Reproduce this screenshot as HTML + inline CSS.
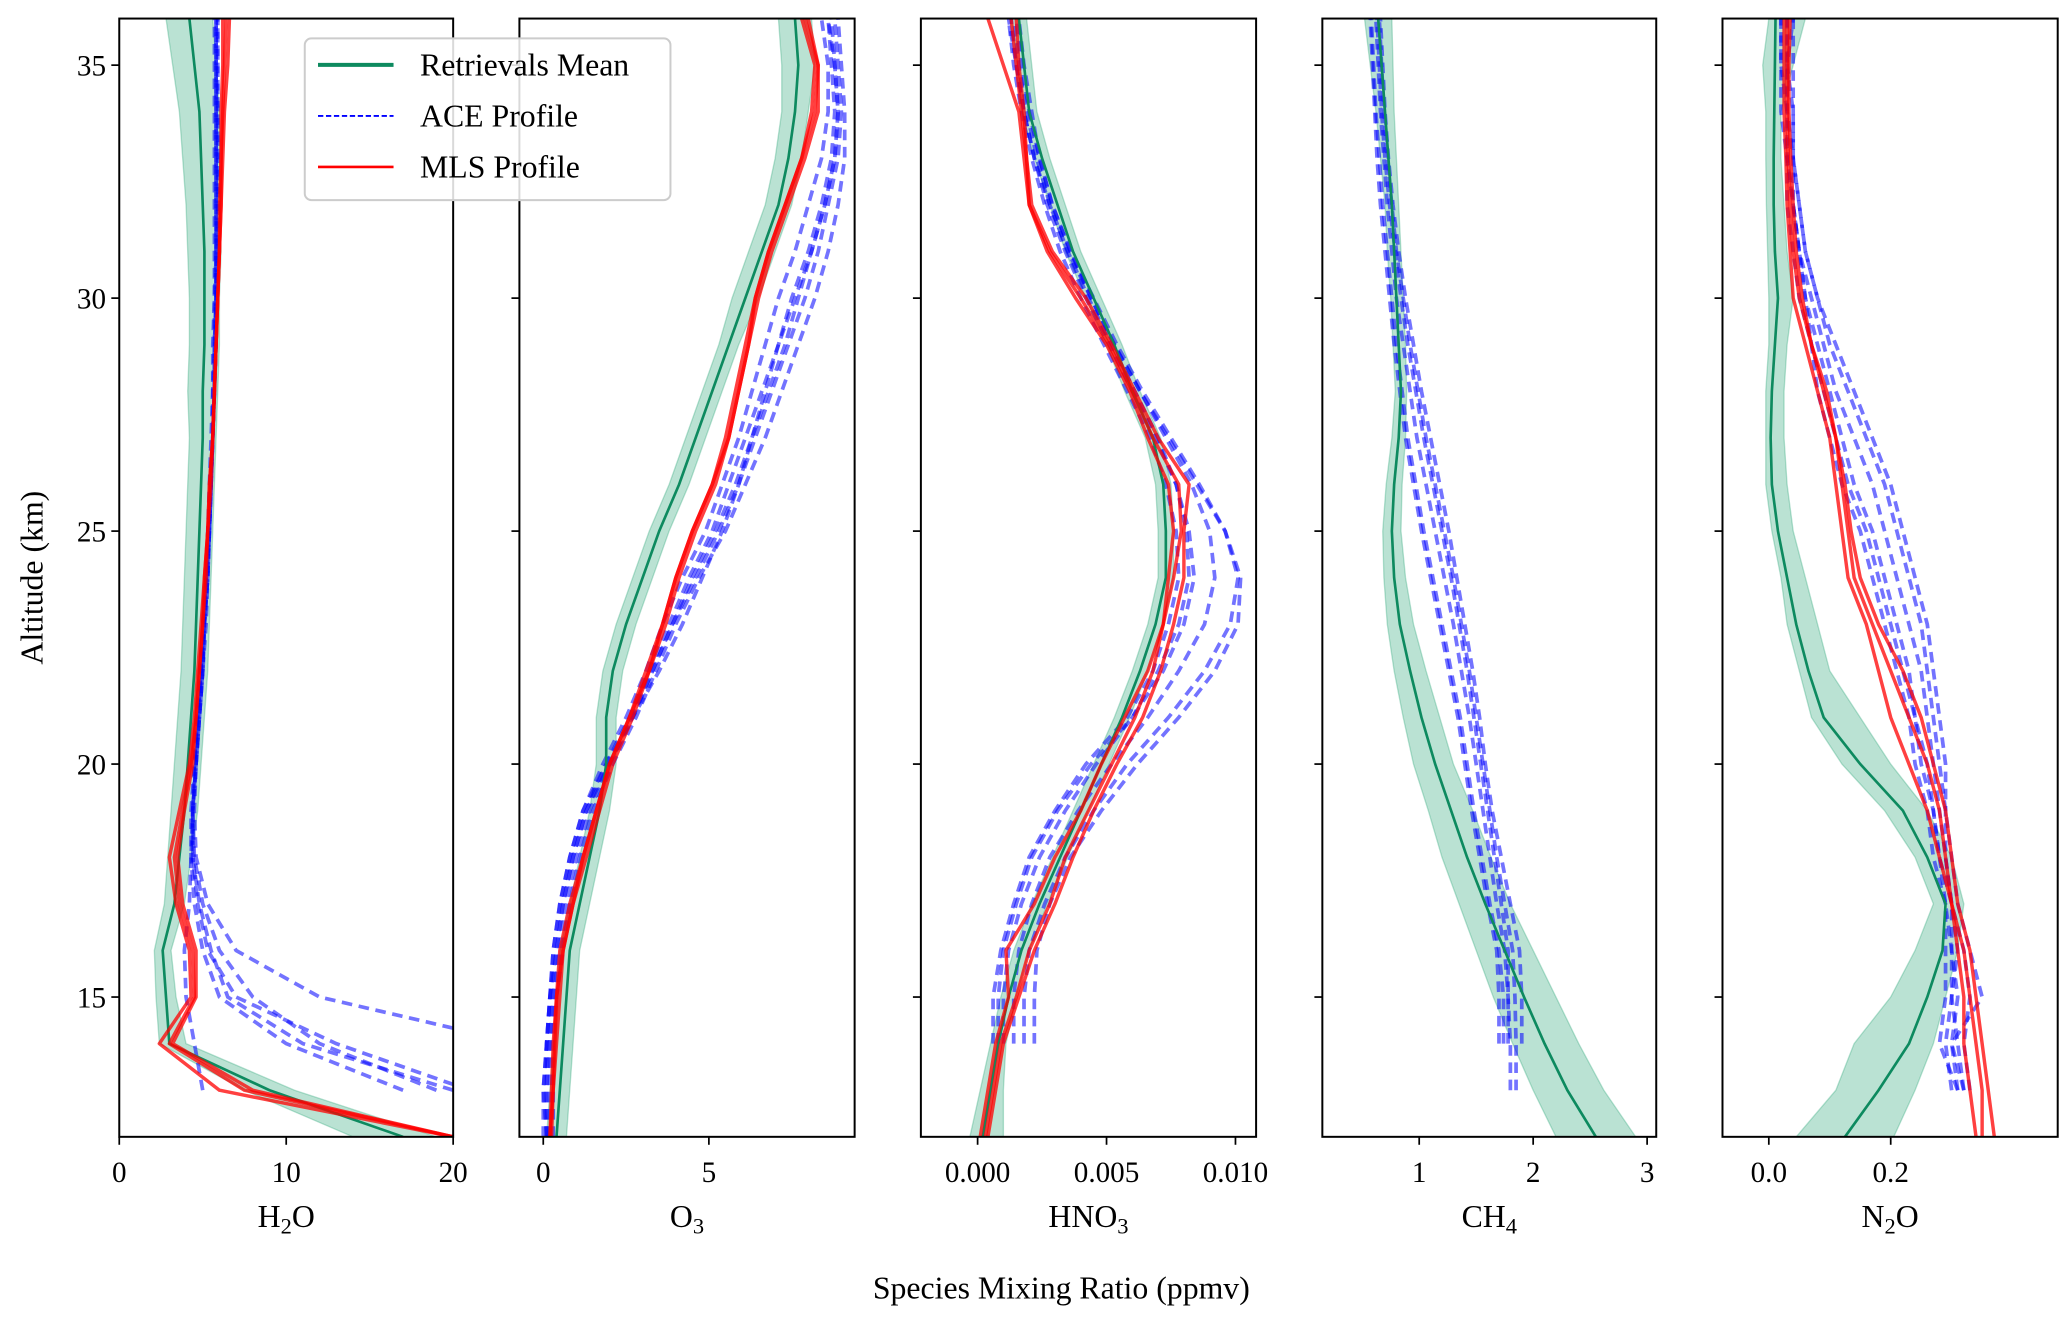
<!DOCTYPE html>
<html><head><meta charset="utf-8"><style>
html,body{margin:0;padding:0;background:#fff;}
svg{display:block;font-family:"Liberation Serif",serif;}
</style></head><body>
<svg id="chart" width="2067" height="1321" viewBox="0 0 1560 997" xmlns="http://www.w3.org/2000/svg"></svg>
<script>
// ---------- data ----------
const altitudes = [12,13,14,15,16,17,18,19,20,21,22,23,24,25,26,27,28,29,30,31,32,33,34,35,36];
const yTicks = [15,20,25,30,35];

// H2O
const h2oMean = [17,9,3.0,2.8,2.6,3.3,3.6,3.9,4.1,4.3,4.5,4.6,4.7,4.8,4.9,5.0,5.0,5.1,5.1,5.1,5.0,4.9,4.8,4.5,4.2];
const h2oLow  = [14,7.5,2.4,2.2,2.1,2.7,2.9,3.1,3.3,3.5,3.7,3.8,3.9,4.0,4.1,4.2,4.1,4.2,4.2,4.1,4.0,3.8,3.6,3.2,2.8];
const h2oHigh = [19,10.5,4.0,3.4,3.1,3.9,4.3,4.7,4.9,5.1,5.3,5.4,5.5,5.6,5.7,5.8,5.9,6.0,6.0,6.1,6.0,6.0,6.0,5.8,5.6];
const h2oAce1 = [null,null,24,12,7,5.3,4.6,4.5,4.6,4.8,5.0,5.1,5.3,5.4,5.5,5.6,5.7,5.8,5.8,5.9,5.9,5.9,5.9,5.9,5.9];
const h2oAce2 = [null,20,11,6.5,5.5,4.8,4.4,4.4,4.6,4.8,5.0,5.1,5.3,5.4,5.5,5.6,5.7,5.8,5.8,5.8,5.9,5.9,5.9,5.9,5.9];
const h2oAce3 = [null,19,12,8,6,5,4.5,4.4,4.6,4.8,5.0,5.2,5.3,5.4,5.5,5.6,5.7,5.7,5.8,5.8,5.8,5.8,5.8,5.8,5.8];
const h2oAce4 = [null,5,4.5,4.0,3.9,4.2,4.3,4.4,4.6,4.8,5.0,5.1,5.3,5.4,5.5,5.6,5.7,5.7,5.8,5.8,5.8,5.8,5.8,5.8,5.8];
const h2oAce5 = [null,21,13,7,5.3,4.7,4.4,4.4,4.5,4.7,4.9,5.1,5.2,5.4,5.5,5.6,5.6,5.7,5.7,5.8,5.8,5.8,5.8,5.8,5.8];
const h2oAce6 = [null,17,10,6,5,4.5,4.3,4.3,4.5,4.7,4.9,5.0,5.2,5.3,5.4,5.5,5.6,5.6,5.7,5.7,5.7,5.7,5.7,5.7,5.7];
const h2oMls1 = [20,6,2.4,4.3,4.2,3.4,3.0,3.6,4.2,4.5,4.7,4.9,5.1,5.3,5.4,5.6,5.7,5.8,5.9,6.0,6.1,6.1,6.1,6.2,6.2];
const h2oMls2 = [20,7.5,3.0,4.5,4.4,3.6,3.3,3.8,4.3,4.6,4.8,5.0,5.2,5.3,5.5,5.6,5.7,5.8,5.9,6.0,6.0,6.1,6.2,6.3,6.4];
const h2oMls3 = [20,8,3.2,4.6,4.6,3.8,3.5,3.9,4.4,4.6,4.8,5.0,5.1,5.3,5.4,5.6,5.7,5.8,5.9,6.0,6.1,6.2,6.3,6.5,6.6];

// O3
const o3Mean = [0.4,0.5,0.6,0.7,0.8,1.1,1.4,1.7,1.9,1.9,2.1,2.5,3.0,3.5,4.1,4.6,5.1,5.6,6.1,6.6,7.1,7.4,7.6,7.7,7.6];
const o3Low  = [0.1,0.2,0.3,0.4,0.5,0.8,1.1,1.4,1.6,1.6,1.8,2.2,2.7,3.2,3.8,4.3,4.8,5.3,5.7,6.2,6.7,7.0,7.2,7.2,7.1];
const o3High = [0.7,0.8,0.9,1.0,1.1,1.4,1.7,2.0,2.2,2.2,2.4,2.8,3.3,3.8,4.4,4.9,5.4,5.9,6.5,7.0,7.5,7.8,8.0,8.2,8.1];
const o3Ace1 = [0.1,0.1,0.1,0.2,0.3,0.5,0.8,1.2,1.8,2.5,3.1,3.6,4.2,4.9,5.4,5.9,6.3,6.7,7.1,7.6,8.0,8.4,8.6,8.6,8.4];
const o3Ace2 = [0.1,0.0,0.1,0.2,0.4,0.6,0.9,1.3,1.9,2.6,3.2,3.8,4.4,5.1,5.6,6.1,6.6,7.1,7.5,8.0,8.4,8.7,8.8,8.7,8.6];
const o3Ace3 = [0.2,0.2,0.2,0.3,0.5,0.7,1.0,1.4,2.0,2.7,3.3,3.9,4.6,5.3,5.9,6.4,6.9,7.4,7.9,8.3,8.6,8.9,9.0,8.9,8.8];
const o3Ace4 = [0.3,0.3,0.3,0.4,0.6,0.8,1.1,1.5,2.1,2.8,3.4,4.0,4.7,5.5,6.1,6.7,7.2,7.7,8.2,8.6,8.9,9.1,9.1,9.0,8.9];
const o3Ace5 = [0.1,0.1,0.2,0.3,0.4,0.6,0.9,1.3,2.0,2.7,3.3,3.9,4.5,5.2,5.8,6.3,6.8,7.3,7.7,8.1,8.5,8.8,8.9,8.8,8.6];
const o3Ace6 = [0.0,0.0,0.1,0.2,0.3,0.5,0.8,1.2,1.9,2.7,3.5,4.2,4.8,5.4,5.9,6.3,6.7,7.1,7.6,8.1,8.5,8.8,8.9,8.8,8.7];
const o3Mls1 = [0.2,0.3,0.35,0.4,0.6,0.9,1.2,1.6,2.0,2.6,3.2,3.6,4.0,4.5,5.1,5.6,5.9,6.2,6.4,6.8,7.3,7.8,8.2,8.3,8.0];
const o3Mls2 = [0.25,0.3,0.4,0.5,0.6,0.9,1.3,1.7,2.1,2.7,3.2,3.7,4.1,4.6,5.2,5.6,5.9,6.2,6.5,6.9,7.4,7.9,8.3,8.3,7.9];
const o3Mls3 = [0.2,0.25,0.3,0.4,0.5,0.8,1.2,1.6,2.0,2.6,3.1,3.6,4.0,4.5,5.1,5.5,5.8,6.1,6.4,6.8,7.3,7.8,8.1,8.2,7.8];

// HNO3
const hno3Mean = [0.0002,0.0005,0.0008,0.0012,0.0017,0.0024,0.0032,0.0040,0.0048,0.0056,0.0063,0.0069,0.0073,0.0073,0.0072,0.0068,0.0060,0.0053,0.0045,0.0037,0.0031,0.0025,0.0020,0.0018,0.0016];
const hno3Low  = [-0.0003,0.0001,0.0005,0.0009,0.0014,0.0021,0.0029,0.0037,0.0045,0.0053,0.0060,0.0066,0.0070,0.0070,0.0069,0.0065,0.0057,0.0050,0.0042,0.0034,0.0028,0.0022,0.0017,0.0015,0.0013];
const hno3High = [0.0010,0.0010,0.0011,0.0015,0.0020,0.0027,0.0035,0.0043,0.0051,0.0059,0.0066,0.0072,0.0076,0.0076,0.0075,0.0071,0.0063,0.0056,0.0048,0.0040,0.0034,0.0028,0.0023,0.0021,0.0019];
const hno3Ace1 = [null,null,0.0006,0.0006,0.0009,0.0014,0.0020,0.0030,0.0042,0.0058,0.0068,0.0074,0.0078,0.0077,0.0073,0.0067,0.0058,0.0049,0.0040,0.0032,0.0026,0.0021,0.0017,0.0014,0.0012];
const hno3Ace2 = [null,null,0.0010,0.0010,0.0012,0.0017,0.0024,0.0034,0.0046,0.0060,0.0072,0.0080,0.0084,0.0082,0.0077,0.0069,0.0060,0.0051,0.0042,0.0034,0.0027,0.0022,0.0018,0.0015,0.0013];
const hno3Ace3 = [null,null,0.0014,0.0014,0.0016,0.0021,0.0028,0.0039,0.0052,0.0066,0.0078,0.0088,0.0092,0.0090,0.0083,0.0073,0.0063,0.0053,0.0044,0.0035,0.0028,0.0023,0.0019,0.0016,0.0014];
const hno3Ace4 = [null,null,0.0018,0.0018,0.0020,0.0026,0.0034,0.0045,0.0058,0.0074,0.0088,0.0098,0.0101,0.0096,0.0086,0.0075,0.0064,0.0054,0.0045,0.0036,0.0029,0.0024,0.0020,0.0017,0.0015];
const hno3Ace5 = [null,null,0.0022,0.0022,0.0023,0.0028,0.0036,0.0048,0.0062,0.0078,0.0092,0.0101,0.0102,0.0096,0.0085,0.0074,0.0063,0.0053,0.0044,0.0036,0.0029,0.0024,0.0021,0.0018,0.0016];
const hno3Ace6 = [null,null,0.0008,0.0008,0.0010,0.0015,0.0021,0.0031,0.0044,0.0060,0.0070,0.0078,0.0082,0.0081,0.0077,0.0070,0.0061,0.0052,0.0043,0.0035,0.0028,0.0022,0.0018,0.0015,0.0012];
const hno3Mls1 = [0.0001,0.0004,0.0007,0.0012,0.0011,0.0022,0.0030,0.0040,0.0048,0.0057,0.0066,0.0072,0.0074,0.0076,0.0074,0.0066,0.0059,0.0050,0.0038,0.0027,0.0020,0.0018,0.0016,0.0010,0.0004];
const hno3Mls2 = [0.0003,0.0006,0.0009,0.0015,0.0020,0.0028,0.0034,0.0043,0.0052,0.0061,0.0068,0.0072,0.0076,0.0079,0.0078,0.0068,0.0060,0.0051,0.0040,0.0028,0.0020,0.0019,0.0017,0.0015,0.0013];
const hno3Mls3 = [0.0004,0.0007,0.0010,0.0016,0.0022,0.0030,0.0037,0.0045,0.0054,0.0064,0.0071,0.0076,0.0080,0.0080,0.0082,0.0070,0.0061,0.0052,0.0042,0.0029,0.0021,0.0019,0.0018,0.0016,0.0015];

// CH4
const ch4Mean = [2.55,2.3,2.1,1.92,1.75,1.58,1.42,1.28,1.14,1.02,0.92,0.83,0.78,0.76,0.78,0.82,0.84,0.82,0.80,0.78,0.76,0.73,0.70,0.67,0.64];
const ch4Low  = [2.2,2.0,1.82,1.65,1.5,1.35,1.2,1.08,0.95,0.86,0.78,0.72,0.69,0.68,0.71,0.76,0.79,0.77,0.75,0.72,0.70,0.66,0.62,0.57,0.52];
const ch4High = [2.9,2.62,2.4,2.2,2.0,1.8,1.63,1.47,1.3,1.18,1.06,0.95,0.88,0.84,0.85,0.88,0.89,0.88,0.86,0.84,0.82,0.80,0.78,0.77,0.76];
const ch4Ace1 = [null,null,1.74,1.74,1.70,1.62,1.55,1.48,1.42,1.36,1.28,1.20,1.12,1.04,0.97,0.90,0.85,0.80,0.76,0.72,0.68,0.65,0.62,0.60,0.58];
const ch4Ace2 = [null,1.80,1.80,1.78,1.75,1.68,1.62,1.56,1.50,1.44,1.37,1.30,1.22,1.14,1.06,0.98,0.92,0.86,0.80,0.76,0.72,0.69,0.66,0.64,0.62];
const ch4Ace3 = [null,1.85,1.85,1.84,1.82,1.75,1.68,1.62,1.56,1.50,1.44,1.37,1.30,1.22,1.14,1.06,0.99,0.92,0.86,0.80,0.76,0.72,0.69,0.67,0.65];
const ch4Ace4 = [null,null,1.78,1.78,1.78,1.72,1.66,1.60,1.54,1.48,1.42,1.35,1.28,1.20,1.12,1.04,0.97,0.90,0.84,0.79,0.74,0.70,0.67,0.65,0.63];
const ch4Ace5 = [null,null,1.90,1.90,1.88,1.80,1.72,1.64,1.58,1.53,1.47,1.40,1.33,1.26,1.18,1.10,1.02,0.95,0.88,0.82,0.77,0.73,0.70,0.68,0.66];
const ch4Ace6 = [null,null,1.70,1.70,1.68,1.60,1.53,1.46,1.40,1.34,1.26,1.18,1.10,1.02,0.95,0.88,0.83,0.78,0.74,0.70,0.66,0.63,0.61,0.59,0.57];

// N2O
const n2oMean = [0.125,0.18,0.23,0.26,0.285,0.29,0.26,0.22,0.15,0.09,0.065,0.045,0.03,0.015,0.005,0.003,0.005,0.01,0.015,0.01,0.008,0.008,0.009,0.01,0.011];
const n2oLow  = [0.045,0.11,0.14,0.2,0.24,0.27,0.24,0.19,0.12,0.07,0.05,0.03,0.02,0.005,-0.005,-0.005,-0.005,0.0,0.0,-0.002,-0.004,-0.005,-0.005,-0.01,0.0];
const n2oHigh = [0.205,0.24,0.27,0.29,0.31,0.32,0.30,0.26,0.20,0.15,0.10,0.08,0.06,0.04,0.03,0.025,0.025,0.03,0.04,0.03,0.025,0.02,0.02,0.04,0.06];
const n2oAce1 = [null,0.31,0.28,0.29,0.29,0.29,0.27,0.26,0.24,0.23,0.21,0.19,0.17,0.15,0.12,0.10,0.08,0.07,0.05,0.04,0.03,0.03,0.02,0.02,0.02];
const n2oAce2 = [null,0.32,0.30,0.31,0.30,0.30,0.28,0.27,0.26,0.24,0.23,0.21,0.19,0.17,0.14,0.12,0.10,0.08,0.06,0.05,0.04,0.03,0.03,0.03,0.03];
const n2oAce3 = [null,0.33,0.32,0.33,0.32,0.30,0.29,0.28,0.27,0.26,0.25,0.23,0.21,0.19,0.17,0.14,0.11,0.09,0.07,0.05,0.04,0.04,0.03,0.03,0.03];
const n2oAce4 = [null,0.31,0.30,0.35,0.33,0.31,0.30,0.29,0.28,0.27,0.26,0.25,0.23,0.21,0.19,0.16,0.13,0.10,0.08,0.06,0.05,0.04,0.04,0.03,0.04];
const n2oAce5 = [null,0.32,0.31,0.30,0.31,0.30,0.29,0.29,0.29,0.28,0.27,0.26,0.24,0.22,0.20,0.17,0.14,0.11,0.08,0.06,0.05,0.04,0.04,0.04,0.04];
const n2oAce6 = [null,0.30,0.29,0.30,0.30,0.29,0.28,0.27,0.25,0.24,0.22,0.20,0.18,0.16,0.13,0.11,0.09,0.07,0.06,0.05,0.04,0.03,0.03,0.02,0.02];
const n2oMls1 = [0.34,0.33,0.32,0.32,0.31,0.30,0.28,0.26,0.23,0.20,0.18,0.16,0.13,0.12,0.11,0.10,0.08,0.06,0.04,0.035,0.03,0.028,0.025,0.025,0.025];
const n2oMls2 = [0.35,0.35,0.34,0.33,0.32,0.30,0.29,0.28,0.26,0.23,0.20,0.17,0.14,0.13,0.12,0.11,0.09,0.07,0.05,0.04,0.035,0.032,0.03,0.03,0.03];
const n2oMls3 = [0.37,0.36,0.35,0.34,0.33,0.31,0.30,0.29,0.27,0.25,0.22,0.18,0.15,0.135,0.125,0.11,0.095,0.07,0.055,0.045,0.04,0.036,0.033,0.033,0.035];

const xTickValues = [[0,10,20],[0,5],[0,0.005,0.010],[1,2,3],[0.0,0.2]];
const xTickLabels = [["0","10","20"],["0","5"],["0.000","0.005","0.010"],["1","2","3"],["0.0","0.2"]];

// ---------- layout ----------
const NS = "http://www.w3.org/2000/svg";
const svg = document.getElementById('chart');
const TOP = 14, BOT = 858, YMIN = 12, YMAX = 36;
const panels = [
 {name:'h2o', px:[90,342], dom:[0,20], lab:['H','2','O'], mean:h2oMean, lo:h2oLow, hi:h2oHigh, ace:[h2oAce1,h2oAce2,h2oAce3,h2oAce4,h2oAce5,h2oAce6], mls:[h2oMls1,h2oMls2,h2oMls3]},
 {name:'o3', px:[392,645], dom:[-0.72,9.4], lab:['O','3',''], mean:o3Mean, lo:o3Low, hi:o3High, ace:[o3Ace1,o3Ace2,o3Ace3,o3Ace4,o3Ace5,o3Ace6], mls:[o3Mls1,o3Mls2,o3Mls3]},
 {name:'hno3', px:[695,948], dom:[-0.0022,0.0108], lab:['HNO','3',''], mean:hno3Mean, lo:hno3Low, hi:hno3High, ace:[hno3Ace1,hno3Ace2,hno3Ace3,hno3Ace4,hno3Ace5,hno3Ace6], mls:[hno3Mls1,hno3Mls2,hno3Mls3]},
 {name:'ch4', px:[998,1250], dom:[0.15,3.08], lab:['CH','4',''], mean:ch4Mean, lo:ch4Low, hi:ch4High, ace:[ch4Ace1,ch4Ace2,ch4Ace3,ch4Ace4,ch4Ace5,ch4Ace6], mls:[]},
 {name:'n2o', px:[1300,1553], dom:[-0.076,0.474], lab:['N','2','O'], mean:n2oMean, lo:n2oLow, hi:n2oHigh, ace:[n2oAce1,n2oAce2,n2oAce3,n2oAce4,n2oAce5,n2oAce6], mls:[n2oMls1,n2oMls2,n2oMls3]}
];
function el(tag, attrs, parent){ const e=document.createElementNS(NS,tag); for(const k in attrs) e.setAttribute(k,attrs[k]); (parent||svg).appendChild(e); return e; }
const yScale = a => BOT - (a-YMIN)/(YMAX-YMIN)*(BOT-TOP);

const defs = el('defs',{});
panels.forEach((p,pi)=>{
  const xs = v => p.px[0] + (v-p.dom[0])/(p.dom[1]-p.dom[0])*(p.px[1]-p.px[0]);
  const cp = el('clipPath',{id:'clip'+pi},defs);
  el('rect',{x:p.px[0],y:TOP,width:p.px[1]-p.px[0],height:BOT-TOP},cp);
  const g = el('g',{'clip-path':'url(#clip'+pi+')'});
  
  
  // band
  let d='';
  altitudes.forEach((a,i)=>{ d += (i?'L':'M')+xs(p.hi[i]).toFixed(2)+','+yScale(a).toFixed(2); });
  for(let i=altitudes.length-1;i>=0;i--) d += 'L'+xs(p.lo[i]).toFixed(2)+','+yScale(altitudes[i]).toFixed(2);
  const band = el('path',{d:d+'Z',fill:'#1a9e6e','fill-opacity':0.3,stroke:'#1a9e6e','stroke-opacity':0.3,'stroke-width':1},g);
  
  
  const line = (arr)=>{ let s='',first=true; arr.forEach((v,i)=>{ if(v===null) return; s+=(first?'M':'L')+xs(v).toFixed(2)+','+yScale(altitudes[i]).toFixed(2); first=false;}); return s; };
  p.ace.forEach((arr,k)=>{
    const l = el('path',{d:line(arr),fill:'none',stroke:'#0000ff','stroke-opacity':0.55,'stroke-width':2.8,'stroke-dasharray':'8,5'},g);
    
    
  });
  const m = el('path',{d:line(p.mean),fill:'none',stroke:'#0d8a5f','stroke-width':2},g);
  
  
  p.mls.forEach((arr,k)=>{
    const l = el('path',{d:line(arr),fill:'none',stroke:'#ff0000','stroke-opacity':0.75,'stroke-width':2.6,'stroke-linejoin':'round'},g);
    
    
  });
  // frame
  const fr = el('rect',{x:p.px[0],y:TOP,width:p.px[1]-p.px[0],height:BOT-TOP,fill:'none',stroke:'#000','stroke-width':1.5});
  
  
  // y ticks
  yTicks.forEach(t=>{
    el('line',{x1:p.px[0]-6,x2:p.px[0],y1:yScale(t),y2:yScale(t),stroke:'#000','stroke-width':1.3});
    if(pi===0){
      const tx = el('text',{x:p.px[0]-10,y:yScale(t)+8,'text-anchor':'end','font-size':22,fill:'#000'});
      tx.textContent = t;
      
      
    }
  });
  // x ticks
  xTickValues[pi].forEach((t,k)=>{
    el('line',{x1:xs(t),x2:xs(t),y1:BOT,y2:BOT+6,stroke:'#000','stroke-width':1.3});
    const tx = el('text',{x:xs(t),y:892,'text-anchor':'middle','font-size':22,fill:'#000'});
    tx.textContent = xTickLabels[pi][k];
    
    
  });
  // species label
  const lb = el('text',{x:(p.px[0]+p.px[1])/2,y:926,'text-anchor':'middle','font-size':24,fill:'#000'});
  
  
  const s1 = el('tspan',{},lb); s1.textContent = p.lab[0];
  const s2 = el('tspan',{'font-size':17,dy:5},lb); s2.textContent = p.lab[1];
  if(p.lab[2]){ const s3 = el('tspan',{dy:-5},lb); s3.textContent = p.lab[2]; }
});

// axis titles
const yt = el('text',{x:0,y:0,transform:'translate(32,436) rotate(-90)','text-anchor':'middle','font-size':24,fill:'#000'});
yt.textContent = 'Altitude (km)';


const xt = el('text',{x:801,y:980,'text-anchor':'middle','font-size':24,fill:'#000'});
xt.textContent = 'Species Mixing Ratio (ppmv)';



// legend
const lg = el('g',{});


el('rect',{x:230,y:29,width:276,height:122,rx:5,fill:'#fff','fill-opacity':0.85,stroke:'#cccccc','stroke-width':1.5},lg);
const legendItems = [['Retrievals Mean','#0d8a5f',1,3,''],['ACE Profile','#0000ff',1,1.5,'4,2'],['MLS Profile','#ff0000',1,2,'']];
legendItems.forEach((it,k)=>{
  const y = 49 + k*38.5;
  const e = el('g',{},lg);
  
  
  const ln = el('line',{x1:240,x2:297,y1:y,y2:y,stroke:it[1],'stroke-width':it[3]},e);
  if(it[4]) ln.setAttribute('stroke-dasharray',it[4]);
  const t = el('text',{x:317,y:y+8,'font-size':24,fill:'#000'},e);
  t.textContent = it[0];
});
</script>
</body></html>
